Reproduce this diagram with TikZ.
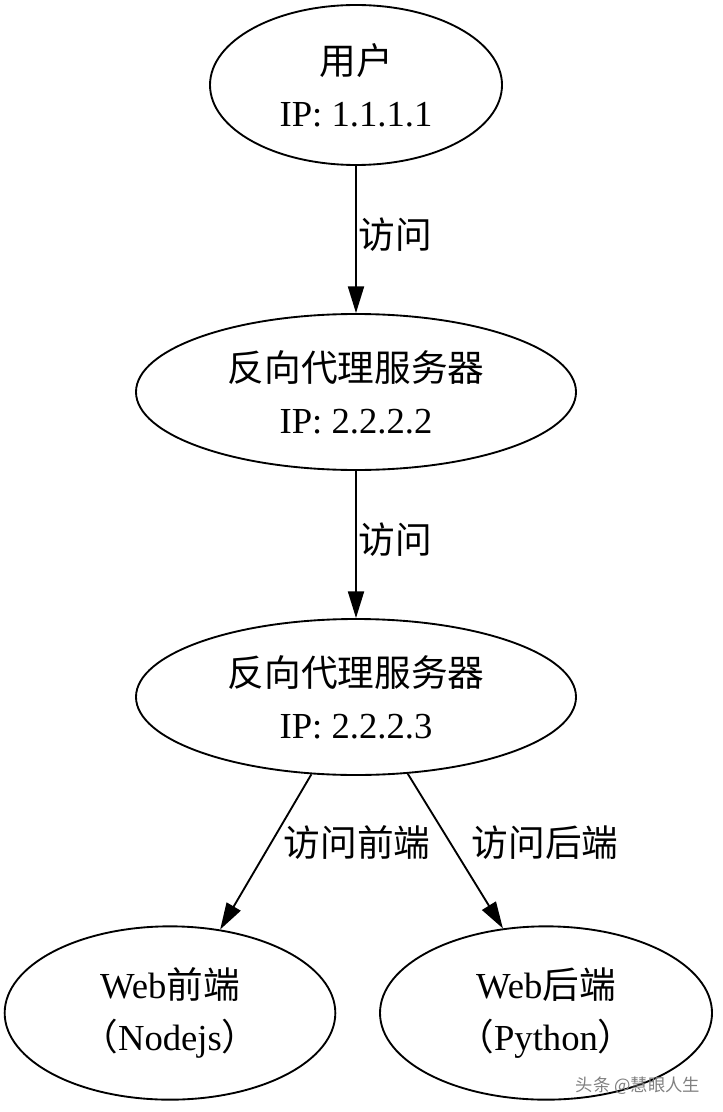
\documentclass[tikz,border=0pt]{standalone}
\usepackage{fontspec}
\setmainfont{Liberation Serif}
\newfontfamily\cjk{Noto Sans CJK SC}
\usetikzlibrary{shapes.geometric,arrows.meta}
\begin{document}
\begin{tikzpicture}[x=0.75pt,y=-0.75pt,
  el/.style={ellipse,draw,line width=1.4pt,inner sep=0pt,align=center,font=\fontsize{27.5}{39}\selectfont},
  ed/.style={line width=1.4pt,-{Triangle[length=20pt,width=12pt]}},
  lb/.style={font=\fontsize{27.5}{30}\selectfont\cjk}]
\useasboundingbox (0,0) rectangle (722,1112);
\node[el,minimum width=219pt,minimum height=120pt] (u) at (356,85) {{\cjk 用户}\\IP: 1.1.1.1};
\node[el,minimum width=330pt,minimum height=117pt] (p1) at (356,392) {{\cjk 反向代理服务器}\\IP: 2.2.2.2};
\node[el,minimum width=330pt,minimum height=117pt] (p2) at (356,697) {{\cjk 反向代理服务器}\\IP: 2.2.2.3};
\node[el,minimum width=248pt,minimum height=130pt] (fe) at (170,1013) {Web{\cjk 前端}\\{\cjk （}Nodejs{\cjk ）}};
\node[el,minimum width=249pt,minimum height=130pt] (be) at (546,1013) {Web{\cjk 后端}\\{\cjk （}Python{\cjk ）}};
\draw[ed] (u) -- (p1) node[midway,right,lb,xshift=-2pt,yshift=4pt] (l1) {访问};
\draw[ed] (p1) -- (p2) node[midway,right,lb,xshift=-2pt,yshift=4pt] (l2) {访问};
\draw[ed] (p2.240.6) -- (fe.59);
\draw[ed] (p2.304.7) -- (be.117.9);
\node[lb] (l3) at (357,843) {访问前端};
\node[lb] (l4) at (545,843) {访问后端};
\node[font=\fontsize{13}{15}\selectfont\cjk,text=gray] (wm) at (638,1086) {头条 @慧眼人生};
\end{tikzpicture}
\end{document}
